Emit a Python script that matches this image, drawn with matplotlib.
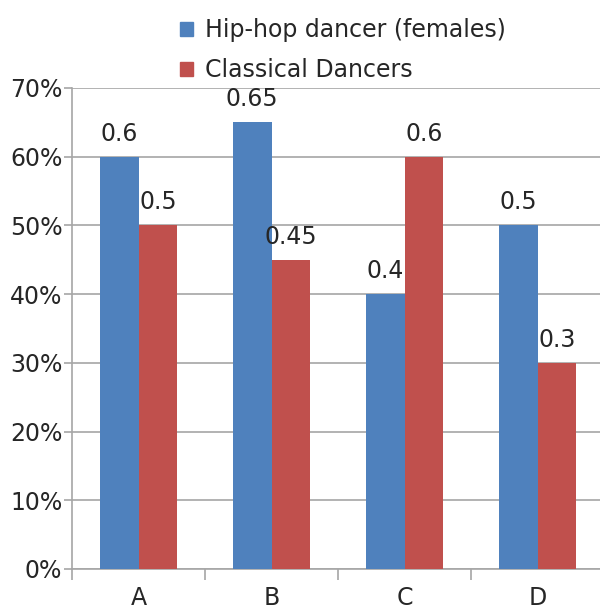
import matplotlib.pyplot as plt
import numpy as np
from matplotlib.patches import Patch
from matplotlib.ticker import FuncFormatter

# data
categories = ['A', 'B', 'C', 'D']
hiphop = [0.6, 0.65, 0.4, 0.5]
classical = [0.5, 0.45, 0.6, 0.3]
hiphop_labels = ['0.6', '0.65', '0.4', '0.5']
classical_labels = ['0.5', '0.45', '0.6', '0.3']
series_names = ['Hip-hop dancer (females)', 'Classical Dancers']

c_blue = '#4F81BD'
c_red = '#C0504D'
c_grid = '#a6a6a6'
c_text = '#262626'
fs = 17

plt.rcParams['font.family'] = ['DejaVu Sans']

fig = plt.figure(figsize=(6, 6.12), dpi=100)
ax = fig.add_axes([0.12, 0.0703, 0.887, 0.786])

x = np.arange(len(categories))
w = 0.29
b1 = ax.bar(x - w / 2, hiphop, w, color=c_blue, zorder=3)
b2 = ax.bar(x + w / 2, classical, w, color=c_red, zorder=3)

ax.bar_label(b1, labels=hiphop_labels, padding=8, fontsize=fs, color=c_text)
ax.bar_label(b2, labels=classical_labels, padding=8, fontsize=fs, color=c_text)

ax.set_xlim(-0.5, 3.5)
ax.set_ylim(0, 0.7)
ax.set_yticks(np.arange(0, 0.71, 0.1))
ax.yaxis.set_major_formatter(FuncFormatter(lambda v, p: f'{v * 100:.0f}%'))
ax.yaxis.grid(True, color=c_grid, linewidth=1.2, zorder=0)

ax.set_xticks(x)
ax.set_xticklabels(categories)
ax.set_xticks([-0.5, 0.5, 1.5, 2.5], minor=True)
ax.tick_params(axis='x', which='major', length=0, pad=12, labelsize=fs, labelcolor=c_text)
ax.tick_params(axis='x', which='minor', length=8, width=1.2, color=c_grid)
ax.tick_params(axis='y', length=6, width=1.2, color=c_grid, pad=1, labelsize=fs, labelcolor=c_text)

for s in ['top', 'right']:
    ax.spines[s].set_visible(False)
for s in ['left', 'bottom']:
    ax.spines[s].set_color(c_grid)
    ax.spines[s].set_linewidth(1.2)

handles = [Patch(color=c_blue), Patch(color=c_red)]
fig.legend(handles, series_names, loc='upper left', bbox_to_anchor=(0.265, 1.005),
           frameon=False, fontsize=fs, handlelength=0.55, handleheight=0.55,
           handletextpad=0.5, labelspacing=0.68, labelcolor=c_text)

fig.savefig('out.png', dpi=100)
